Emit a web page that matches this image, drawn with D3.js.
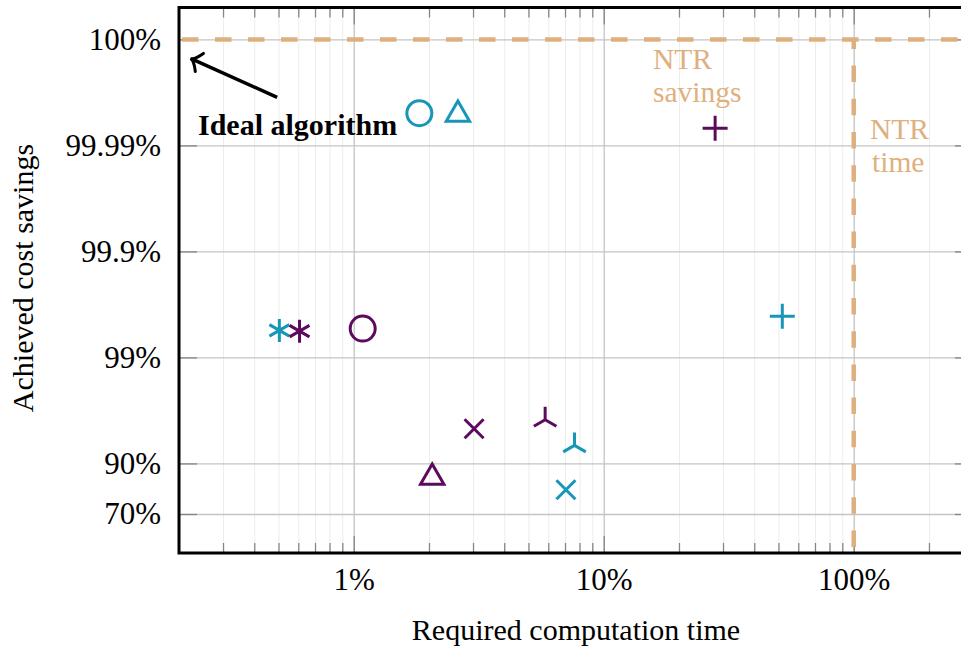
<!DOCTYPE html>
<html><head><meta charset="utf-8">
<script src="https://cdn.jsdelivr.net/npm/d3@7"></script>
<style>
body{margin:0;background:#fff}
svg{display:block}
text{font-family:"Liberation Serif","Times New Roman",serif}
</style>
</head><body>
<svg id="c" width="961" height="650"></svg>
<script>
// ---- data ----
const methods = ["circle", "triangle", "plus", "asterisk", "cross", "tri"];
// required computation time (% of NTR time)
const tealTime = [1.83, 2.61, 51.8, 0.504, 7.06, 7.64];
const purpleTime = [1.086, 2.06, 27.9, 0.607, 3.03, 5.83];
// achieved cost savings (%)
const tealSavings = [99.99503, 99.9949, 99.59, 99.444, 82.3, 93.24];
const purpleSavings = [99.465, 86.45, 99.99313, 99.435, 95.29, 96.13];

const xTickValues = [1, 10, 100];
const xTickLabels = ["1%", "10%", "100%"];
// y axis is drawn on the remaining cost gap (1 - savings), log scale
const yTickGaps = [1e-5, 1e-4, 1e-3, 1e-2, 1e-1, 0.3];
const yTickLabels = ["100%", "99.99%", "99.9%", "99%", "90%", "70%"];

const ntrTime = 100;       // %
const ntrGap = 1e-5;       // drawn at the "100%" level
const arrowTip = [0.222, 1.51e-5];
const arrowTail = [0.494, 3.52e-5];

// ---- layout ----
const L = 179, R = 973, T = 7.5, B = 553;
const teal = "#1896b8", purple = "#5c0a5e", tan = "#dfb07f";

const x = d3.scaleLog().domain([0.2, 300]).range([L, R]);
const y = d3.scaleLog().domain([5e-6, 0.7]).range([T, B]);
const gap = s => (100 - s) / 100;

const svg = d3.select("#c");
svg.append("rect").attr("width", 961).attr("height", 650).attr("fill", "#fff");

const minorX = [];
[0.1, 1, 10, 100].forEach(d => {
  for (let k = 2; k <= 9; k++) {
    const v = +(k * d).toPrecision(3);
    if (v > 0.2 && v < 300) minorX.push(v);
  }
});

// minor grid
svg.append("g").attr("transform", `translate(0,${B})`)
  .call(d3.axisBottom(x).tickValues(minorX).tickSize(-(B - T)).tickFormat(""))
  .call(g => g.select(".domain").remove())
  .call(g => g.selectAll("line").attr("stroke", "#ededed").attr("stroke-width", 1));
// major grid
svg.append("g").attr("transform", `translate(0,${B})`)
  .call(d3.axisBottom(x).tickValues(xTickValues).tickSize(-(B - T)).tickFormat(""))
  .call(g => g.select(".domain").remove())
  .call(g => g.selectAll("line").attr("stroke", "#c4c4c4").attr("stroke-width", 1.3));
svg.append("g").attr("transform", `translate(${L},0)`)
  .call(d3.axisLeft(y).tickValues(yTickGaps).tickSize(-(R - L)).tickFormat(""))
  .call(g => g.select(".domain").remove())
  .call(g => g.selectAll("line").attr("stroke", "#c4c4c4").attr("stroke-width", 1.3));

const tickStyle = g => {
  g.select(".domain").remove();
  g.selectAll("line").attr("stroke", "#858585").attr("stroke-width", 1.3);
  g.selectAll("text").attr("font-size", 31).attr("fill", "#000");
};

// x ticks
svg.append("g").attr("transform", `translate(0,${B})`)
  .call(d3.axisBottom(x).tickValues(minorX).tickSize(-10).tickFormat("")).call(tickStyle);
svg.append("g").attr("transform", `translate(0,${B})`)
  .call(d3.axisBottom(x).tickValues(xTickValues).tickSize(-17).tickPadding(15)
    .tickFormat((d, i) => xTickLabels[i])).call(tickStyle);
svg.append("g").attr("transform", `translate(0,${T})`)
  .call(d3.axisTop(x).tickValues(minorX).tickSize(-10).tickFormat("")).call(tickStyle);
svg.append("g").attr("transform", `translate(0,${T})`)
  .call(d3.axisTop(x).tickValues(xTickValues).tickSize(-17).tickFormat("")).call(tickStyle);
// y ticks
svg.append("g").attr("transform", `translate(${L},0)`)
  .call(d3.axisLeft(y).tickValues(yTickGaps).tickSize(-18).tickPadding(18)
    .tickFormat((d, i) => yTickLabels[i])).call(tickStyle)
  .call(g => g.selectAll("text").attr("dy", "0.32em"));
svg.append("g").attr("transform", `translate(${R},0)`)
  .call(d3.axisRight(y).tickValues(yTickGaps).tickSize(-18).tickFormat("")).call(tickStyle);

// NTR dashed lines
svg.append("line").attr("x1", L).attr("x2", R).attr("y1", y(ntrGap)).attr("y2", y(ntrGap))
  .attr("stroke", tan).attr("stroke-width", 4.5)
  .attr("stroke-dasharray", "16.5 16.5").attr("stroke-dashoffset", 30);
svg.append("line").attr("x1", x(ntrTime)).attr("x2", x(ntrTime)).attr("y1", y(ntrGap)).attr("y2", B)
  .attr("stroke", tan).attr("stroke-width", 4.5)
  .attr("stroke-dasharray", "16.5 16.7").attr("stroke-dashoffset", 7);

// markers
function markerPath(type) {
  const p = d3.path();
  if (type === "circle") {
    p.moveTo(12.5, 0); p.arc(0, 0, 12.5, 0, 2 * Math.PI);
  } else if (type === "triangle") {
    const r = 13.5;
    p.moveTo(0, -r);
    p.lineTo(r * Math.cos(Math.PI / 6), r * Math.sin(Math.PI / 6));
    p.lineTo(-r * Math.cos(Math.PI / 6), r * Math.sin(Math.PI / 6));
    p.closePath();
  } else if (type === "plus") {
    const r = 12.5;
    p.moveTo(-r, 0); p.lineTo(r, 0); p.moveTo(0, -r); p.lineTo(0, r);
  } else if (type === "asterisk") {
    const r = 11.5;
    [90, 30, 150].forEach(a => {
      const t = a * Math.PI / 180;
      p.moveTo(r * Math.cos(t), -r * Math.sin(t));
      p.lineTo(-r * Math.cos(t), r * Math.sin(t));
    });
  } else if (type === "cross") {
    const r = 9.5;
    p.moveTo(-r, -r); p.lineTo(r, r); p.moveTo(-r, r); p.lineTo(r, -r);
  } else if (type === "tri") {
    const r = 13;
    p.moveTo(0, 0); p.lineTo(0, -r);
    p.moveTo(0, 0); p.lineTo(-r * Math.cos(Math.PI / 6), r * Math.sin(Math.PI / 6));
    p.moveTo(0, 0); p.lineTo(r * Math.cos(Math.PI / 6), r * Math.sin(Math.PI / 6));
  }
  return p.toString();
}
const series = [
  { color: teal, time: tealTime, sav: tealSavings },
  { color: purple, time: purpleTime, sav: purpleSavings }
];
series.forEach(s => {
  svg.append("g").selectAll("path").data(methods).join("path")
    .attr("transform", (m, i) => `translate(${x(s.time[i])},${y(gap(s.sav[i]))})`)
    .attr("d", m => markerPath(m))
    .attr("fill", "none").attr("stroke", s.color).attr("stroke-width", 3);
});

// frame
svg.append("rect").attr("x", L).attr("y", T).attr("width", R - L).attr("height", B - T)
  .attr("fill", "none").attr("stroke", "#000").attr("stroke-width", 3);

// annotations
const tx = x(arrowTip[0]), ty = y(arrowTip[1]);
const ang = Math.atan2(y(arrowTail[1]) - ty, x(arrowTail[0]) - tx);
const hb = 14, ha = 45 * Math.PI / 180;
svg.append("line").attr("x1", x(arrowTail[0])).attr("y1", y(arrowTail[1]))
  .attr("x2", tx + 2 * Math.cos(ang)).attr("y2", ty + 2 * Math.sin(ang))
  .attr("stroke", "#000").attr("stroke-width", 3.5);
svg.append("path")
  .attr("d", `M${tx + hb * Math.cos(ang - ha)},${ty + hb * Math.sin(ang - ha)} Q${tx + 4 * Math.cos(ang)},${ty + 4 * Math.sin(ang)} ${tx},${ty} Q${tx + 4 * Math.cos(ang)},${ty + 4 * Math.sin(ang)} ${tx + hb * Math.cos(ang + ha)},${ty + hb * Math.sin(ang + ha)}`)
  .attr("fill", "none").attr("stroke", "#000").attr("stroke-width", 3).attr("stroke-linecap", "round");
svg.append("text").attr("x", 198).attr("y", 135).attr("font-size", 30).attr("font-weight", "bold")
  .text("Ideal algorithm");

svg.append("text").attr("x", 653).attr("y", 68.5).attr("font-size", 29.5).attr("fill", tan).text("NTR");
svg.append("text").attr("x", 653).attr("y", 101.5).attr("font-size", 29.5).attr("fill", tan).text("savings");
svg.append("text").attr("x", 870).attr("y", 138.5).attr("font-size", 29.5).attr("fill", tan).text("NTR");
svg.append("text").attr("x", 872).attr("y", 171.5).attr("font-size", 29.5).attr("fill", tan).text("time");

// axis titles
svg.append("text").attr("x", 576).attr("y", 640).attr("text-anchor", "middle").attr("font-size", 30)
  .text("Required computation time");
svg.append("text").attr("transform", "translate(33,278) rotate(-90)").attr("text-anchor", "middle")
  .attr("font-size", 30).text("Achieved cost savings");
</script>
</body></html>
